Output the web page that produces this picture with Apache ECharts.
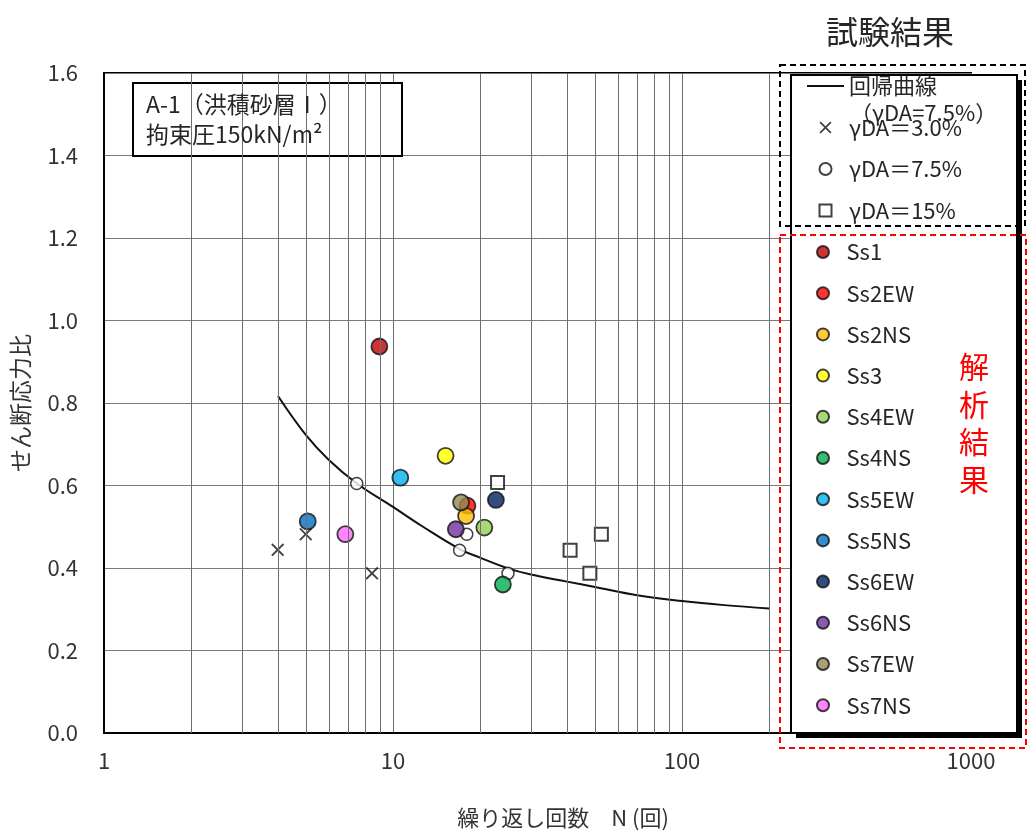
<!DOCTYPE html>
<html>
<head>
<meta charset="utf-8">
<script src="https://cdn.jsdelivr.net/npm/echarts@6/dist/echarts.min.js"></script>
<style>html,body{margin:0;padding:0;background:#fff;}#main{width:1028px;height:832px;}</style>
</head>
<body>
<div id="main"></div>
<script>
// ---- data ----
const xTickLabels = ['1', '10', '100', '1000'];
const yTickValues = [0, 0.2, 0.4, 0.6, 0.8, 1.0, 1.2, 1.4, 1.6];
const minorGridN = [2,3,4,5,6,7,8,9,20,30,40,50,60,70,80,90,200,300,400,500,600,700,800,900];

// regression curve (γDA=7.5%)
const curveN     = [4.0, 5.0, 6.0, 7.5, 10, 12.5, 17, 20, 25, 30, 40, 50, 70, 100, 140, 200];
const curveRatio = [0.817, 0.722, 0.662, 0.605, 0.548, 0.503, 0.446, 0.425, 0.399, 0.384, 0.367, 0.354, 0.334, 0.320, 0.310, 0.302];

// test results
const da30N = [3.99, 4.99, 8.46];
const da30R = [0.444, 0.482, 0.387];
const da75N = [7.49, 18.0, 17.0, 25.0];
const da75R = [0.605, 0.482, 0.443, 0.387];
const da15N = [23.0, 41.0, 52.6, 48.0];
const da15R = [0.607, 0.443, 0.482, 0.387];

// analysis results
const ssNames = ['Ss1','Ss2EW','Ss2NS','Ss3','Ss4EW','Ss4NS','Ss5EW','Ss5NS','Ss6EW','Ss6NS','Ss7EW','Ss7NS'];
const ssN     = [8.97, 18.1, 17.9, 15.2, 20.7, 24.0, 10.6, 5.07, 22.7, 16.5, 17.2, 6.84];
const ssRatio = [0.937, 0.551, 0.526, 0.672, 0.498, 0.360, 0.619, 0.513, 0.565, 0.494, 0.559, 0.482];

// styles
const ssColors = ['#C00000','#FF0000','#FFC000','#FFFF00','#92D050','#00B050','#00B0F0','#0070C0','#002060','#7030A0','#948A54','#FF66FF'];
const FONT = '"Noto Sans CJK JP", "Noto Sans", sans-serif';
const TXT = '#262626';
const CROSS = 'path://M0,1 L1,0 L5,4 L9,0 L10,1 L6,5 L10,9 L9,10 L5,6 L1,10 L0,9 L4,5 Z';
const SQUARE = 'path://M0,0 L10,0 L10,10 L0,10 Z';

const zip = (a, b) => a.map((v, i) => [v, b[i]]);

const series = [];
series.push({
  name: 'minorGrid', type: 'line', data: [], silent: true, z: 1,
  markLine: {
    silent: true, symbol: ['none', 'none'], label: { show: false },
    lineStyle: { color: '#6e6e6e', width: 1, type: 'solid' },
    animation: false,
    data: minorGridN.map(v => ({ xAxis: v }))
  }
});
series.push({
  name: '回帰曲線', type: 'line', data: zip(curveN, curveRatio), smooth: 0.4,
  symbol: 'none', showSymbol: false, lineStyle: { color: '#111', width: 2 }, itemStyle: { color: '#111' }, z: 2
});
series.push({
  name: 'γDA＝3.0%', type: 'scatter', data: zip(da30N, da30R), symbol: CROSS, symbolSize: 13, symbolKeepAspect: true,
  itemStyle: { color: '#111', borderWidth: 0 }, z: 3
});
series.push({
  name: 'γDA＝7.5%', type: 'scatter', data: zip(da75N, da75R), symbol: 'circle', symbolSize: 12, symbolKeepAspect: true,
  itemStyle: { color: '#fff', borderColor: '#111', borderWidth: 1.5 }, z: 3
});
series.push({
  name: 'γDA＝15%', type: 'scatter', data: zip(da15N, da15R), symbol: SQUARE, symbolSize: 13, symbolKeepAspect: true,
  itemStyle: { color: '#fff', borderColor: '#111', borderWidth: 2 }, z: 3
});
ssNames.forEach((nm, i) => {
  series.push({
    name: nm, type: 'scatter', data: [[ssN[i], ssRatio[i]]], symbol: 'circle', symbolSize: 16, symbolKeepAspect: true,
    itemStyle: { color: ssColors[i], borderColor: '#111', borderWidth: 1.8 }, z: 4
  });
});

const legendText = { fontFamily: FONT, fontSize: 22, color: TXT, lineHeight: 22 };

const option = {
  animation: false,
  backgroundColor: '#fff',
  textStyle: { fontFamily: FONT },
  grid: { left: 104, right: 57, top: 73, bottom: 99, show: true, borderColor: '#000', borderWidth: 2, backgroundColor: 'transparent' },
  xAxis: {
    type: 'log', logBase: 10, min: 1, max: 1000,
    axisLine: { show: true, lineStyle: { color: '#000', width: 2 } },
    axisTick: { show: false },
    axisLabel: { fontSize: 22, color: '#333', margin: 17, fontFamily: FONT, showMaxLabel: true, showMinLabel: true,
      formatter: v => xTickLabels.find(t => Number(t) === Math.round(v)) || '' },
    splitLine: { show: true, lineStyle: { color: '#6e6e6e', width: 1 } }
  },
  yAxis: {
    type: 'value', min: 0, max: 1.6, interval: 0.2,
    name: 'せん断応力比', nameLocation: 'middle', nameGap: 72, nameRotate: 90,
    nameTextStyle: { fontSize: 23, color: '#333', fontFamily: FONT },
    axisLine: { show: true, lineStyle: { color: '#000', width: 2 } },
    axisTick: { show: false },
    axisLabel: { fontSize: 22, color: '#333', margin: 26, fontFamily: FONT,
      formatter: v => (yTickValues.some(t => Math.abs(t - v) < 1e-9) ? v.toFixed(1) : '') },
    splitLine: { show: true, lineStyle: { color: '#7a7a7a', width: 1 } }
  },
  legend: [
    {
      data: [
        { name: '回帰曲線', itemStyle: { opacity: 0 } },
        'γDA＝3.0%', 'γDA＝7.5%', 'γDA＝15%'
      ],
      orient: 'vertical', left: 806, top: 75, itemWidth: 37, itemHeight: 12, itemGap: 19.5,
      symbolKeepAspect: true,
      selectedMode: false, textStyle: legendText, z: 6, padding: 0
    },
    {
      data: ssNames,
      orient: 'vertical', left: 816, top: 241, itemWidth: 37, itemHeight: 12, itemGap: 19.2,
      selectedMode: false, textStyle: legendText, z: 6, padding: 0
    }
  ],
  graphic: [
    // legend frame with shadow
    { type: 'rect', z: 5, z2: 0, silent: true, shape: { x: 796, y: 80, width: 226, height: 658 }, style: { fill: '#000' } },
    { type: 'rect', z: 5, z2: 1, silent: true, shape: { x: 791, y: 75, width: 226, height: 658 }, style: { fill: '#fff', stroke: '#000', lineWidth: 2 } },
    { type: 'rect', z: 5, z2: 2, silent: true, shape: { x: 780, y: 65, width: 245, height: 161 }, style: { fill: 'none', stroke: '#000', lineWidth: 2, lineDash: [6, 4] } },
    { type: 'rect', z: 5, z2: 2, silent: true, shape: { x: 780, y: 235, width: 246, height: 513 }, style: { fill: 'none', stroke: '#ff0000', lineWidth: 2, lineDash: [6, 4] } },
    { type: 'text', z: 7, silent: true, x: 890, y: 32, style: { text: '試験結果', font: '32px ' + FONT, fill: TXT, align: 'center', verticalAlign: 'middle' } },
    { type: 'text', z: 7, silent: true, x: 850, y: 113, style: { text: '（γDA=7.5%）', font: '22px ' + FONT, fill: TXT, align: 'left', verticalAlign: 'middle' } },
    { type: 'text', z: 7, silent: true, x: 974, y: 348, style: { text: '解\n析\n結\n果', font: '30px ' + FONT, fill: '#ff0000', align: 'center', verticalAlign: 'top', lineHeight: 37.5 } },
    // annotation box
    { type: 'rect', z: 5, silent: true, shape: { x: 133, y: 83, width: 269, height: 73 }, style: { fill: '#fff', stroke: '#000', lineWidth: 2 } },
    { type: 'text', z: 7, silent: true, x: 146, y: 104, style: { text: 'A-1（洪積砂層Ⅰ）', font: '23px ' + FONT, fill: TXT, align: 'left', verticalAlign: 'middle' } },
    { type: 'text', z: 7, silent: true, x: 146, y: 134, style: { text: '拘束圧150kN/m²', font: '23px ' + FONT, fill: TXT, align: 'left', verticalAlign: 'middle' } },
    // x axis title
    { type: 'text', z: 7, silent: true, x: 563, y: 818, style: { text: '繰り返し回数　N (回)', font: '22px ' + FONT, fill: '#333', align: 'center', verticalAlign: 'middle' } }
  ],
  series: series
};

const chart = echarts.init(document.getElementById('main'), null, { renderer: 'canvas' });
chart.setOption(option);
</script>
</body>
</html>
